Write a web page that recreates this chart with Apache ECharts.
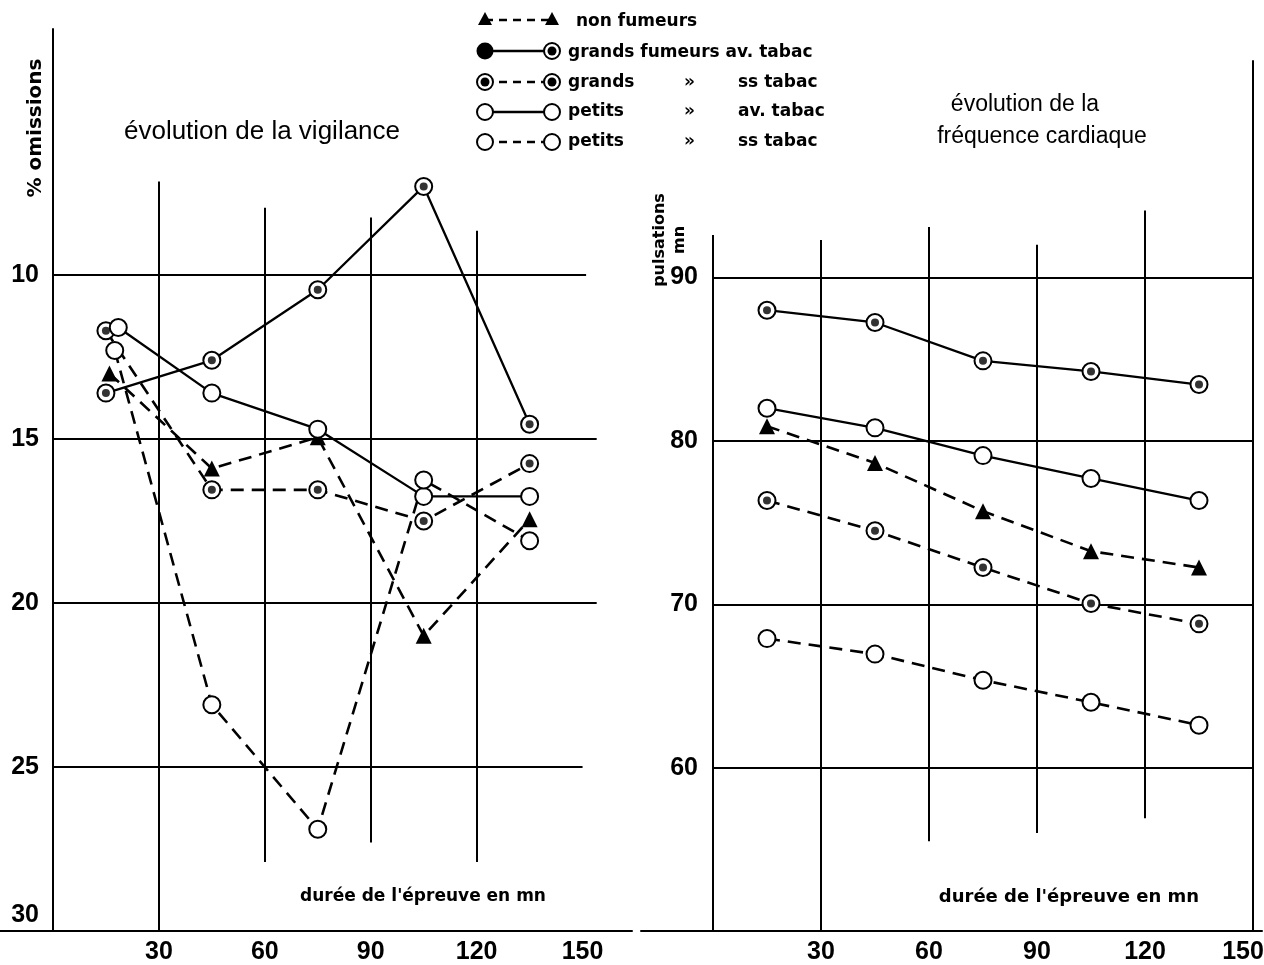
<!DOCTYPE html>
<html>
<head>
<meta charset="utf-8">
<script src="https://cdn.jsdelivr.net/npm/echarts@6/dist/echarts.min.js"></script>
<style>
html, body { margin: 0; padding: 0; background: #fff; }
#chart { width: 1264px; height: 965px; }
</style>
</head>
<body>
<div id="chart"></div>
<script>
// durée de l'épreuve (mn)
let minutes = [15, 45, 75, 105, 135];
// sur le graphique de gauche le premier point est un peu décalé
let firstMinuteVig = [16, 15, 15, 18.5, 17.5];

// % omissions (vigilance)
let vigNonFumeurs = [13.0, 15.9, 14.95, 21.0, 17.45];
let vigGrandsAv = [13.6, 12.6, 10.45, 7.3, 14.55];
let vigGrandsSs = [11.7, 16.55, 16.55, 17.5, 15.75];
let vigPetitsAv = [11.6, 13.6, 14.7, 16.75, 16.75];
let vigPetitsSs = [12.3, 23.1, 26.9, 16.25, 18.1];

// pulsations / mn (fréquence cardiaque)
let fcNonFumeurs = [80.9, 78.65, 75.7, 73.25, 72.25];
let fcGrandsAv = [88.0, 87.25, 84.9, 84.25, 83.45];
let fcGrandsSs = [76.35, 74.5, 72.25, 70.05, 68.8];
let fcPetitsAv = [82.0, 80.8, 79.1, 77.7, 76.35];
let fcPetitsSs = [67.9, 66.95, 65.35, 64.0, 62.6];

// graduations
let xTicks = [30, 60, 90, 120, 150];
let vigTicks = [10, 15, 20, 25, 30];
let fcTicks = [60, 70, 80, 90];

// traits du quadrillage (dessinés à la main sur l'original) [x1, y1, x2, y2]
let vigGridSegs = [
    [0, 10, 151, 10], [0, 15, 154, 15], [0, 20, 154, 20], [0, 25, 150, 25],
    [30, 7.15, 30, 30], [60, 7.95, 60, 27.9], [90, 8.25, 90, 27.3], [120, 8.65, 120, 27.9]
];
let fcGridSegs = [
    [0, 92.6, 0, 50], [150, 103.3, 150, 50],
    [0, 90, 150, 90], [0, 80, 150, 80], [0, 70, 150, 70], [0, 60, 150, 60],
    [30, 92.3, 30, 50], [60, 93.1, 60, 55.5], [90, 92, 90, 56], [120, 94.1, 120, 56.9]
];

let numFont = "'Liberation Sans', Arial, sans-serif";
let txtFont = "'DejaVu Sans', sans-serif";

// non fumeurs, grands av., grands ss, petits av., petits ss
let styles = [
    { mark: 'tri', dash: true },
    { mark: 'dot', dash: false },
    { mark: 'dot', dash: true },
    { mark: 'open', dash: false },
    { mark: 'open', dash: true }
];

function pairs(xs, ys) {
    return ys.map(function (v, i) { return [xs[i], v]; });
}

function makeSeries(g, data, st) {
    let out = [{
        type: 'line',
        xAxisIndex: g,
        yAxisIndex: g,
        data: data,
        z: 10,
        silent: true,
        animation: false,
        symbol: st.mark === 'tri' ? 'triangle' : 'circle',
        symbolSize: st.mark === 'tri' ? 16 : 17,
        itemStyle: {
            color: st.mark === 'tri' ? '#000' : '#fff',
            borderColor: '#000',
            borderWidth: st.mark === 'tri' ? 0 : 2
        },
        lineStyle: {
            color: '#000',
            width: st.dash ? 2.6 : 2.3,
            type: st.dash ? [13, 8] : 'solid'
        }
    }];
    if (st.mark === 'dot') {
        out.push({
            type: 'scatter',
            xAxisIndex: g,
            yAxisIndex: g,
            data: data,
            z: 11,
            silent: true,
            animation: false,
            symbol: 'circle',
            symbolSize: 8,
            itemStyle: { color: '#000' }
        });
    }
    return out;
}

function frame(g, segs) {
    return {
        type: 'line',
        xAxisIndex: g,
        yAxisIndex: g,
        data: [],
        z: 1,
        silent: true,
        animation: false,
        markLine: {
            silent: true,
            animation: false,
            symbol: ['none', 'none'],
            label: { show: false },
            lineStyle: { color: '#000', width: 2, type: 'solid' },
            data: segs.map(function (s) {
                return [{ coord: [s[0], s[1]] }, { coord: [s[2], s[3]] }];
            })
        }
    };
}

let vigSets = [vigNonFumeurs, vigGrandsAv, vigGrandsSs, vigPetitsAv, vigPetitsSs];
let fcSets = [fcNonFumeurs, fcGrandsAv, fcGrandsSs, fcPetitsAv, fcPetitsSs];

let series = [frame(0, vigGridSegs), frame(1, fcGridSegs)];
for (let i = 0; i < styles.length; i++) {
    let xs = minutes.slice();
    xs[0] = firstMinuteVig[i];
    series = series.concat(makeSeries(0, pairs(xs, vigSets[i]), styles[i]));
    series = series.concat(makeSeries(1, pairs(minutes, fcSets[i]), styles[i]));
}

let numStyle = {
    color: '#000',
    fontSize: 25,
    fontWeight: 'bold',
    fontFamily: numFont
};

// étiquettes ; "shift" : style rich pour décaler une étiquette isolée
function tickLabel(list, shiftValue, shiftName) {
    return function (v) {
        if (list.indexOf(v) < 0) return '';
        return v === shiftValue ? '{' + shiftName + '|' + v + '}' : String(v);
    };
}

function labelOpt(formatter, margin) {
    return Object.assign({
        formatter: formatter,
        margin: margin,
        rich: {
            up: Object.assign({ padding: [0, 0, 32, 0] }, numStyle),
            lft: Object.assign({ padding: [0, 20, 0, 0] }, numStyle)
        }
    }, numStyle);
}

// ---- légende et titres (graphic) ----
let legendRows = [20, 51, 82, 112, 142];
let graphics = [];

function txt(text, x, y, font, extra) {
    let el = {
        type: 'text',
        x: x,
        y: y,
        silent: true,
        style: {
            text: text,
            fill: '#000',
            font: font,
            textAlign: 'left',
            textVerticalAlign: 'middle',
            align: 'left',
            verticalAlign: 'middle'
        }
    };
    if (extra) {
        if (extra.rotation) el.rotation = extra.rotation;
        if (extra.align) {
            el.style.textAlign = extra.align;
            el.style.align = extra.align;
        }
    }
    graphics.push(el);
}

function legendMark(kind, x, y) {
    if (kind === 'tri') {
        graphics.push({ type: 'polygon', silent: true, shape: { points: [[x, y - 8], [x - 7, y + 5], [x + 7, y + 5]] }, style: { fill: '#000' } });
    } else if (kind === 'full') {
        graphics.push({ type: 'circle', silent: true, shape: { cx: x, cy: y, r: 8.5 }, style: { fill: '#000' } });
    } else {
        graphics.push({ type: 'circle', silent: true, shape: { cx: x, cy: y, r: 8 }, style: { fill: '#fff', stroke: '#000', lineWidth: 2 } });
        if (kind === 'dot') {
            graphics.push({ type: 'circle', silent: true, shape: { cx: x, cy: y, r: 4.5 }, style: { fill: '#000' } });
        }
    }
}

for (let i = 0; i < styles.length; i++) {
    let y = legendRows[i];
    graphics.push({
        type: 'line',
        silent: true,
        shape: { x1: 485, y1: y, x2: 552, y2: y },
        style: { stroke: '#000', lineWidth: 2.5, lineDash: styles[i].dash ? [8, 6] : null }
    });
    legendMark(i === 1 ? 'full' : styles[i].mark, 485, y);
    legendMark(styles[i].mark, 552, y);
}

let legendFont = 'bold 17px ' + txtFont;
txt('non fumeurs', 576, legendRows[0] + 2, legendFont);
txt('grands fumeurs av. tabac', 568, legendRows[1] + 2, legendFont);
txt('grands', 568, legendRows[2] + 1, legendFont);
txt('»', 684, legendRows[2] + 1, legendFont);
txt('ss tabac', 738, legendRows[2] + 1, legendFont);
txt('petits', 568, legendRows[3], legendFont);
txt('»', 684, legendRows[3], legendFont);
txt('av. tabac', 738, legendRows[3], legendFont);
txt('petits', 568, legendRows[4], legendFont);
txt('»', 684, legendRows[4], legendFont);
txt('ss tabac', 738, legendRows[4], legendFont);

let titleFamily = "'Liberation Sans', sans-serif";
txt('évolution de la vigilance', 262, 132, '26px ' + titleFamily, { align: 'center' });
txt('évolution de la', 1025, 105, '23px ' + titleFamily, { align: 'center' });
txt('fréquence cardiaque', 1042, 137, '23px ' + titleFamily, { align: 'center' });

txt('% omissions', 36, 128, 'bold 20px ' + txtFont, { align: 'center', rotation: Math.PI / 2 });
txt('pulsations', 660, 240, 'bold 16px ' + txtFont, { align: 'center', rotation: Math.PI / 2 });
txt('mn', 680, 240, 'bold 16px ' + txtFont, { align: 'center', rotation: Math.PI / 2 });

txt('durée de l\'épreuve en mn', 423, 897, 'bold 17px ' + txtFont, { align: 'center' });
txt('durée de l\'épreuve en mn', 1069, 897, 'bold 18px ' + txtFont, { align: 'center' });

let option = {
    backgroundColor: '#fff',
    animation: false,
    tooltip: { show: false },
    legend: { show: false },
    grid: [
        { left: 0, top: 29, width: 632, height: 902, containLabel: false, outerBoundsMode: 'none' },
        { left: 641, top: 57, width: 621, height: 874, containLabel: false, outerBoundsMode: 'none' }
    ],
    xAxis: [{
        gridIndex: 0,
        type: 'value',
        min: -15,
        max: 164,
        interval: 15,
        axisLine: { onZero: false, lineStyle: { color: '#000', width: 2 } },
        axisTick: { show: false },
        splitLine: { show: false },
        axisLabel: labelOpt(tickLabel(xTicks), 9)
    }, {
        gridIndex: 1,
        type: 'value',
        min: -20,
        max: 152.5,
        interval: 10,
        axisLine: { onZero: false, lineStyle: { color: '#000', width: 2 } },
        axisTick: { show: false },
        splitLine: { show: false },
        axisLabel: labelOpt(tickLabel(xTicks, 150, 'lft'), 9)
    }],
    yAxis: [{
        gridIndex: 0,
        type: 'value',
        inverse: true,
        min: 2.5,
        max: 30,
        interval: 2.5,
        // l'axe vertical est déplacé sur x = 0 (le trait du bas déborde à gauche)
        offset: -53,
        axisLine: { show: true, onZero: false, lineStyle: { color: '#000', width: 2 } },
        axisTick: { show: false },
        splitLine: { show: false },
        axisLabel: labelOpt(tickLabel(vigTicks, 30, 'up'), 14)
    }, {
        gridIndex: 1,
        type: 'value',
        min: 50,
        max: 103.5,
        interval: 10,
        offset: -72,
        // le trait est tracé par markLine (il s'arrête sous le haut du cadre)
        axisLine: { show: false, onZero: false },
        axisTick: { show: false },
        splitLine: { show: false },
        axisLabel: labelOpt(tickLabel(fcTicks), 15)
    }],
    graphic: graphics,
    series: series
};

let myChart = echarts.init(document.getElementById('chart'));
myChart.setOption(option);
</script>
</body>
</html>
